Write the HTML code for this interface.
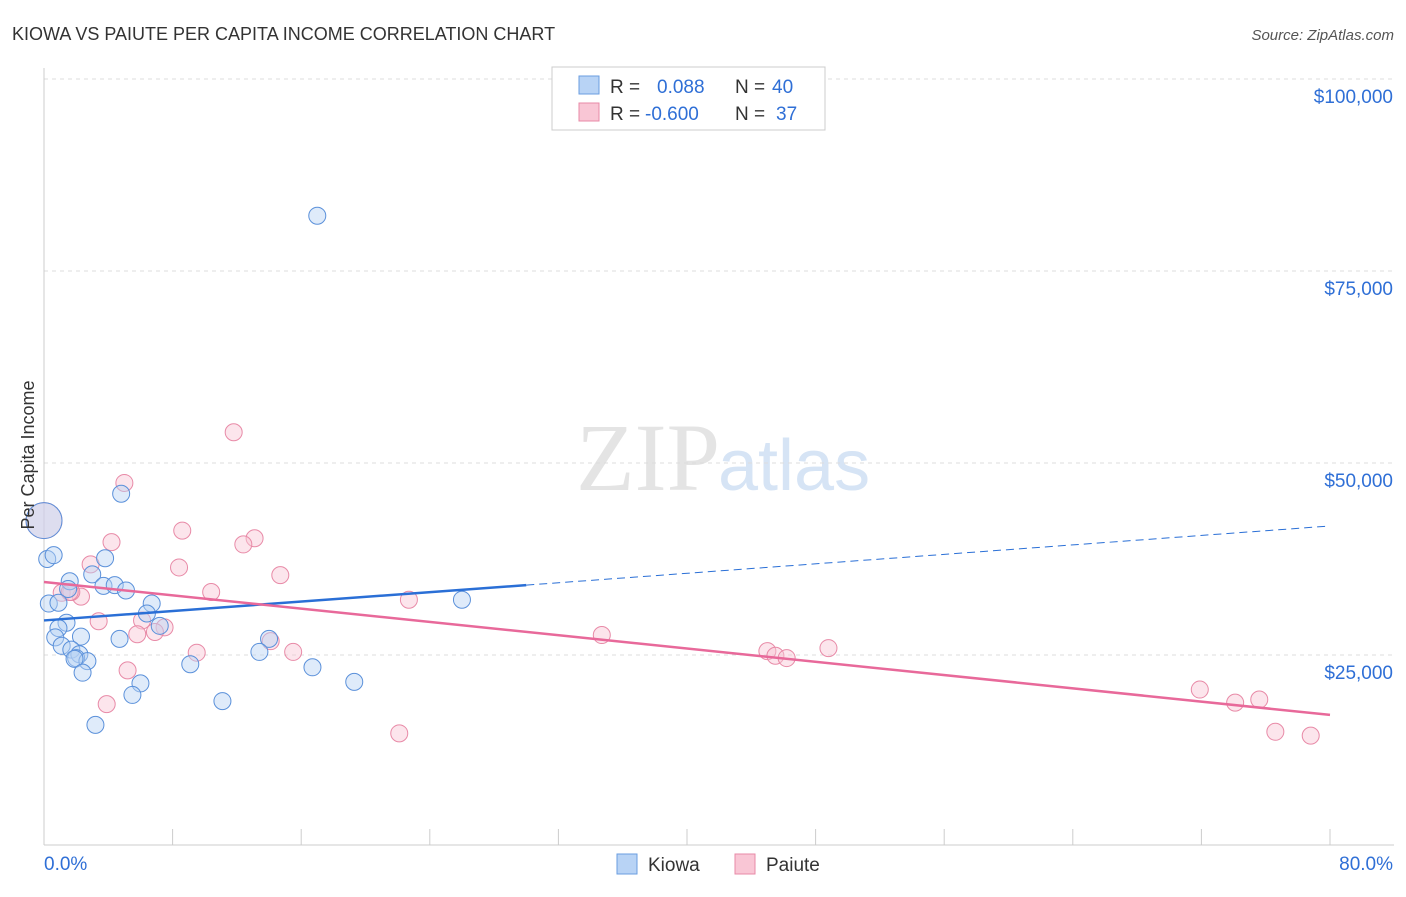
<!DOCTYPE html>
<html><head><meta charset="utf-8"><style>
body{margin:0;background:#fff;font-family:"Liberation Sans",sans-serif}
</style></head><body>
<svg id="c" width="1406" height="892" xmlns="http://www.w3.org/2000/svg">
<text x="12" y="40" font-size="18" fill="#333">KIOWA VS PAIUTE PER CAPITA INCOME CORRELATION CHART</text>
<text x="1394" y="40" font-size="15" fill="#555" text-anchor="end" font-style="italic">Source: ZipAtlas.com</text>
<text x="720" y="490" font-size="96" fill="#e4e4e4" text-anchor="end" font-family="Liberation Serif">ZIP</text>
<text x="718" y="490" font-size="72" fill="#d6e4f5">atlas</text>
<g id="grid"></g><g id="axes"></g><g id="marks"></g>
<text transform="translate(34,455) rotate(-90)" font-size="18" fill="#333" text-anchor="middle">Per Capita Income</text>
<g>
<rect x="552" y="67" width="273" height="63" fill="#fff" stroke="#ccc"/>
<rect x="579" y="76" width="20" height="18" fill="#b8d3f5" stroke="#6a9ee0"/>
<rect x="579" y="103" width="20" height="18" fill="#f9c6d5" stroke="#e88aa7"/>
<text x="610" y="93" font-size="19" fill="#333">R = <tspan fill="#2f6fd6" x="657">0.088</tspan><tspan fill="#333" x="735">N =</tspan><tspan fill="#2f6fd6" x="772">40</tspan></text>
<text x="610" y="120" font-size="19" fill="#333">R = <tspan fill="#2f6fd6" x="645">-0.600</tspan><tspan fill="#333" x="735">N =</tspan><tspan fill="#2f6fd6" x="776">37</tspan></text>
</g>
<g>
<rect x="617" y="854" width="20" height="20" fill="#b8d3f5" stroke="#6a9ee0"/>
<text x="648" y="871" font-size="19" fill="#333">Kiowa</text>
<rect x="735" y="854" width="20" height="20" fill="#f9c6d5" stroke="#e88aa7"/>
<text x="766" y="871" font-size="19" fill="#333">Paiute</text>
</g>
</svg>
<script>
const yTicks=[25000,50000,75000,100000];
const yTickLabels=["$25,000","$50,000","$75,000","$100,000"];
const xTickLabels=["0.0%","80.0%"];
const kiowaX=[17.0,4.8,26.0,0.2,0.6,3.8,3.0,1.6,1.5,3.7,4.4,5.1,0.3,0.9,6.7,6.4,1.4,0.9,7.2,0.7,2.3,4.7,14.0,13.4,1.1,1.7,2.2,2.0,2.7,1.9,9.1,16.7,2.4,6.0,19.3,5.5,11.1,3.2,0.0];
const kiowaY=[82200,46000,32200,37500,38000,37600,35500,34600,33600,34000,34100,33400,31700,31800,31700,30400,29200,28500,28800,27300,27400,27100,27100,25400,26200,25700,25100,24600,24200,24500,23800,23400,22700,21300,21500,19800,19000,15900,42500];
const paiuteX=[11.8,5.0,8.6,13.1,12.4,4.2,2.9,8.4,14.7,10.4,1.1,2.3,1.7,22.7,3.4,6.1,7.5,6.9,5.8,34.7,14.1,9.5,15.5,45.0,45.5,46.2,48.8,5.2,3.9,22.1,71.9,75.6,74.1,76.6,78.8,0.0,1.6];
const paiuteY=[54000,47400,41200,40200,39400,39700,36800,36400,35400,33200,33100,32600,33200,32200,29400,29500,28600,28000,27700,27600,26800,25300,25400,25500,24900,24600,25900,23000,18600,14800,20500,19200,18800,15000,14500,42500,33200];
const kiowaTrend=[[0,29500],[30,34100],[80,41800]];
const paiuteTrend=[[0,34500],[80,17200]];
const X=v=>44+v/80*1286, Y=v=>847-v/25000*192;
const NS="http://www.w3.org/2000/svg";
function mk(t,a,p){const e=document.createElementNS(NS,t);for(const k in a)e.setAttribute(k,a[k]);p.appendChild(e);return e;}
const grid=document.getElementById('grid'),axes=document.getElementById('axes'),marks=document.getElementById('marks');
yTicks.forEach((v,i)=>{
 const l=mk('line',{x1:44,x2:1394,y1:Y(v),y2:Y(v),stroke:'#ddd','stroke-dasharray':'4,4'},grid);
 
 
 const t=mk('text',{x:1393,y:Y(v)+24,'font-size':19,fill:'#2f6fd6','text-anchor':'end'},axes);
 t.textContent=yTickLabels[i];
 
 
});
const tl=mk('line',{x1:44,x2:1394,y1:Y(100000),y2:Y(100000),stroke:'#ddd','stroke-dasharray':'4,4'},grid);
mk('line',{x1:44,x2:44,y1:68,y2:845,stroke:'#ccc'},axes);
mk('line',{x1:44,x2:1394,y1:845,y2:845,stroke:'#ccc'},axes);
for(let i=0;i<=10;i++){const t=mk('line',{x1:X(i*8),x2:X(i*8),y1:829,y2:845,stroke:'#ccc'},axes);
 
 }
const a=mk('text',{x:44,y:870,'font-size':19,fill:'#2f6fd6'},axes);a.textContent=xTickLabels[0];


const b=mk('text',{x:1393,y:870,'font-size':19,fill:'#2f6fd6','text-anchor':'end'},axes);b.textContent=xTickLabels[1];


function pts(xs,ys,fill,stroke,name){xs.forEach((x,i)=>{
 const r=(x===0)?18:8.5;
 const c=mk('circle',{cx:X(x),cy:Y(ys[i]),r:r,fill:fill,'fill-opacity':0.45,stroke:stroke,'stroke-width':1},marks);
 
 });}
pts(paiuteX,paiuteY,'#f9c6d5','#e88aa7','paiute-point');
pts(kiowaX,kiowaY,'#b8d3f5','#5a90da','kiowa-point');
let l1=mk('line',{x1:X(kiowaTrend[0][0]),y1:Y(kiowaTrend[0][1]),x2:X(kiowaTrend[1][0]),y2:Y(kiowaTrend[1][1]),stroke:'#2a6fd6','stroke-width':2.5},marks);


let l2=mk('line',{x1:X(kiowaTrend[1][0]),y1:Y(kiowaTrend[1][1]),x2:X(kiowaTrend[2][0]),y2:Y(kiowaTrend[2][1]),stroke:'#2a6fd6','stroke-width':1,'stroke-dasharray':'8,5'},marks);


let l3=mk('line',{x1:X(paiuteTrend[0][0]),y1:Y(paiuteTrend[0][1]),x2:X(paiuteTrend[1][0]),y2:Y(paiuteTrend[1][1]),stroke:'#e8699a','stroke-width':2.5},marks);


</script>
</body></html>
